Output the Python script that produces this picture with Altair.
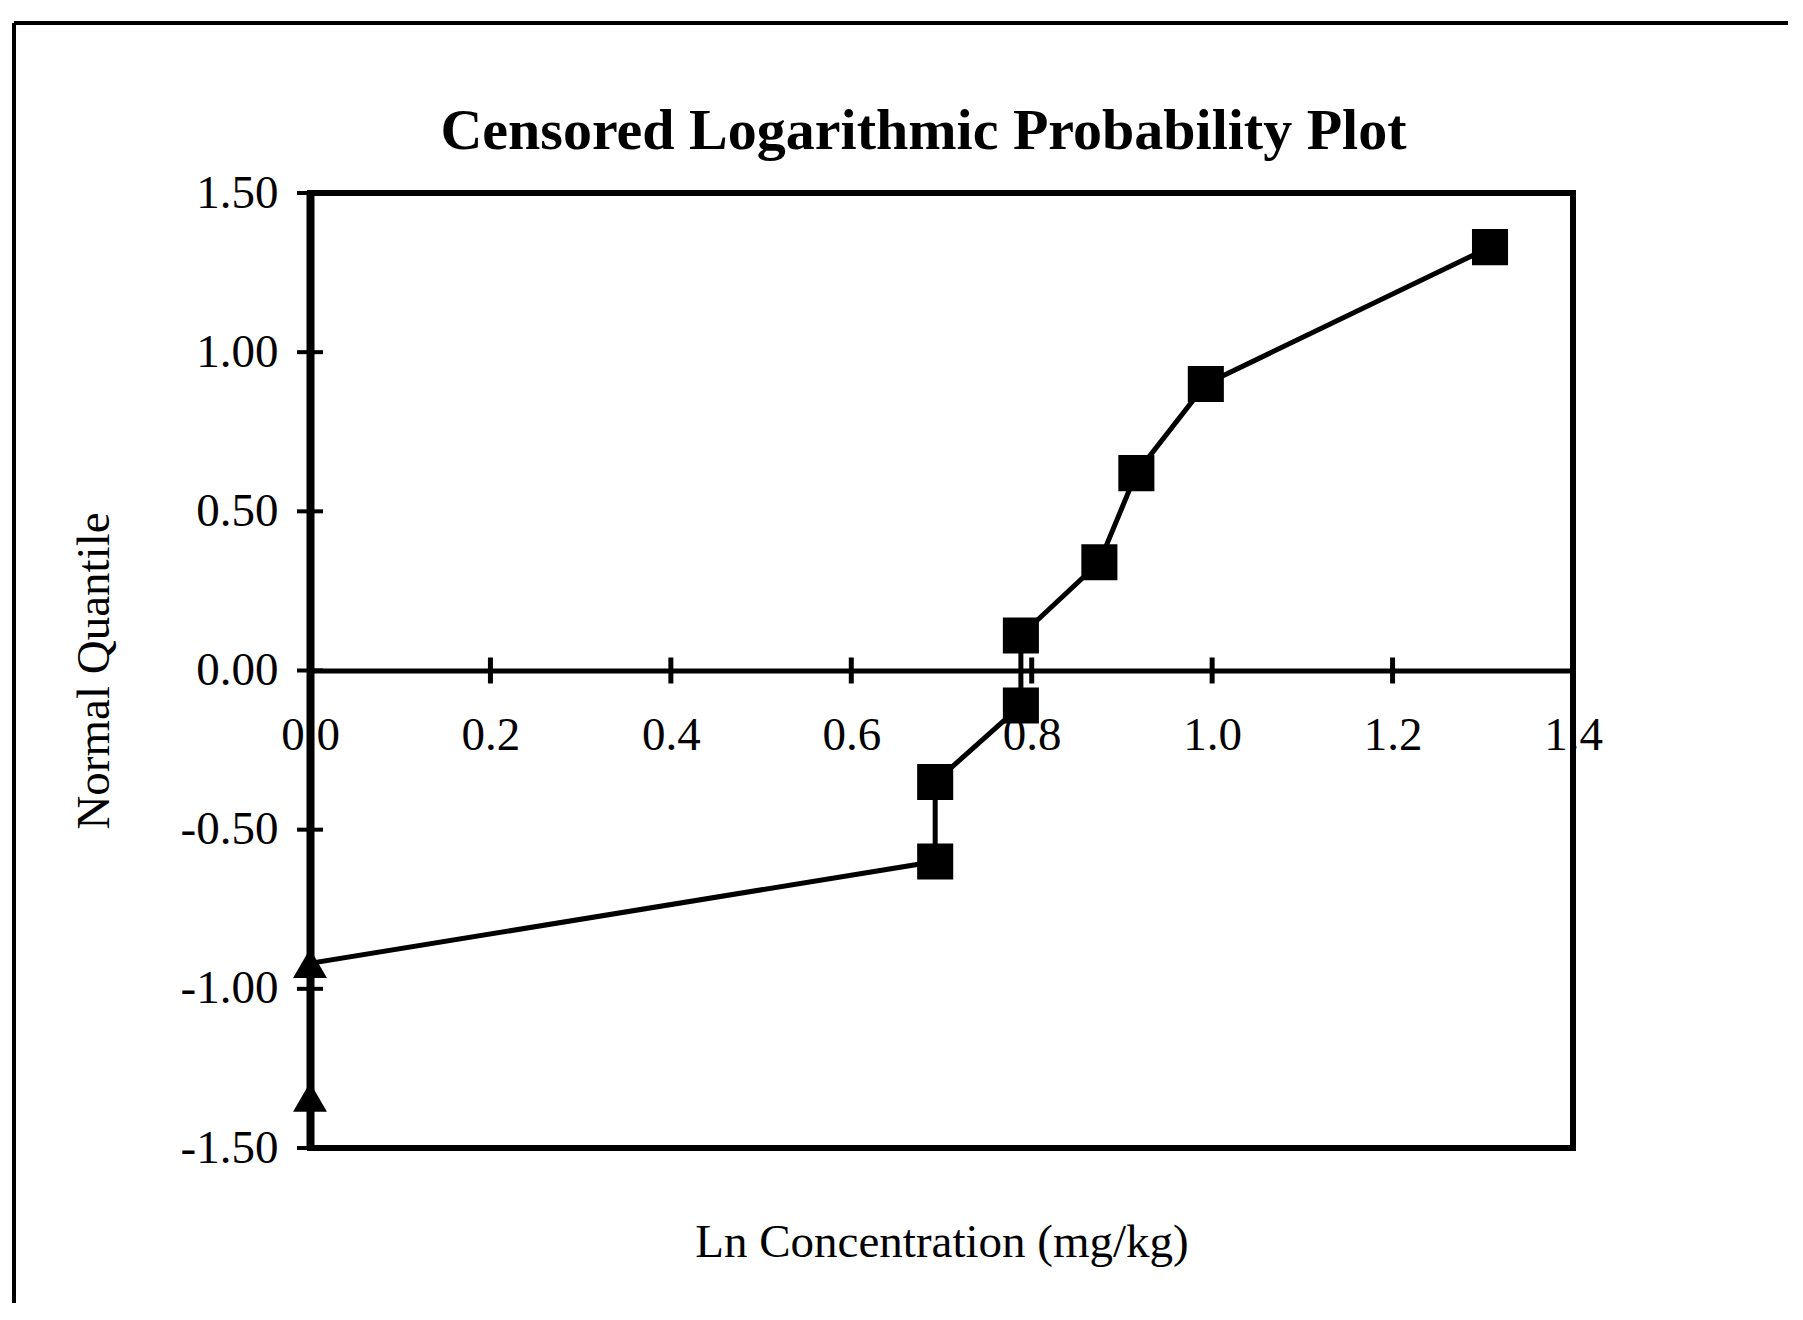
import altair as alt
import pandas as pd

# ---- data ----
ln_conc = [0.0, 0.0, 0.693, 0.693, 0.788, 0.788, 0.875, 0.916, 0.993, 1.308]
normal_q = [-1.34, -0.92, -0.60, -0.35, -0.11, 0.11, 0.34, 0.62, 0.90, 1.33]
status = ["Censored", "Censored", "Detected", "Detected", "Detected",
          "Detected", "Detected", "Detected", "Detected", "Detected"]
x_ticks = [0.0, 0.2, 0.4, 0.6, 0.8, 1.0, 1.2, 1.4]
y_ticks = [-1.5, -1.0, -0.5, 0.0, 0.5, 1.0, 1.5]

TITLE = "Censored Logarithmic Probability Plot"
X_TITLE = "Ln Concentration (mg/kg)"
Y_TITLE = "Normal Quantile"

# ---- layout / style ----
W, H = 1263, 955
FONT = "Liberation Serif"
FS = 47
HYPHEN_EXPR = "replace(datum.label, '\u2212', '-')"

df = pd.DataFrame({"x": ln_conc, "y": normal_q, "status": status,
                   "order": list(range(len(ln_conc)))})
xt = pd.DataFrame({"x": x_ticks, "y": [0.0] * len(x_ticks)})
yt = pd.DataFrame({"x": [0.0] * len(y_ticks), "y": y_ticks})
one = pd.DataFrame({"a": [0]})

xscale = alt.Scale(domain=[0, 1.4], nice=False, zero=False)
yscale = alt.Scale(domain=[-1.5, 1.5], nice=False, zero=False)

xaxis = alt.Axis(
    title=X_TITLE, values=x_ticks, format=".1f", offset=-H / 2,
    ticks=False, tickSize=0, grid=False,
    domainWidth=5, domainColor="black",
    labelFont=FONT, labelFontSize=FS, labelColor="black", labelPadding=42,
    labelFlush=False, labelOverlap=False,
    titleFont=FONT, titleFontSize=FS, titleFontWeight="normal", titleColor="black",
    titleBaseline="alphabetic", titleY=586,
)
yaxis = alt.Axis(
    title=Y_TITLE, values=y_ticks, format=".2f", labelExpr=HYPHEN_EXPR,
    ticks=False, tickSize=0, grid=False,
    domainWidth=8, domainColor="black",
    labelFont=FONT, labelFontSize=FS, labelColor="black", labelPadding=32,
    labelOverlap=False, labelFlush=False,
    titleFont=FONT, titleFontSize=FS, titleFontWeight="normal", titleColor="black",
    titleBaseline="middle", titleX=-216, titleY=H / 2,
)

X = alt.X("x:Q", scale=xscale, axis=xaxis)
Y = alt.Y("y:Q", scale=yscale, axis=yaxis)

frame_top = alt.Chart(one).mark_rule(color="black", strokeWidth=4).encode(
    x=alt.value(-296), x2=alt.value(W + 400), y=alt.value(-170))
frame_left = alt.Chart(one).mark_rule(color="black", strokeWidth=4).encode(
    x=alt.value(-296), y=alt.value(-170), y2=alt.value(H + 400))

xtick_layer = alt.Chart(xt).mark_tick(orient="vertical", size=26, thickness=5,
                                      color="black", opacity=1).encode(x=X, y=Y)
ytick_layer = alt.Chart(yt).mark_tick(orient="horizontal", size=26, thickness=4,
                                      color="black", opacity=1).encode(x=X, y=Y)

line = alt.Chart(df).mark_line(color="black", strokeWidth=5).encode(
    x=X, y=Y, order="order:Q")
points = alt.Chart(df).mark_point(filled=True, color="black", opacity=1).encode(
    x=X, y=Y,
    shape=alt.Shape("status:N", scale=alt.Scale(domain=["Censored", "Detected"],
                                                range=["triangle-up", "square"]),
                    legend=None),
    size=alt.Size("status:N", scale=alt.Scale(domain=["Censored", "Detected"],
                                              range=[1150, 1300]),
                  legend=None),
)

chart = alt.layer(frame_top, frame_left, xtick_layer, ytick_layer, line, points).properties(
    width=W, height=H,
    padding={"left": 302, "top": 185, "right": 215, "bottom": 155},
    autosize=alt.AutoSizeParams(type="none"),
    background="white",
    title=alt.TitleParams(TITLE, font=FONT, fontSize=58, fontWeight="bold",
                          color="black", anchor="middle", frame="group",
                          baseline="alphabetic", offset=0, dy=186, dx=-18),
).configure_view(stroke="black", strokeWidth=6)

chart.save("out.html", embed_options={"renderer": "svg", "actions": False})
